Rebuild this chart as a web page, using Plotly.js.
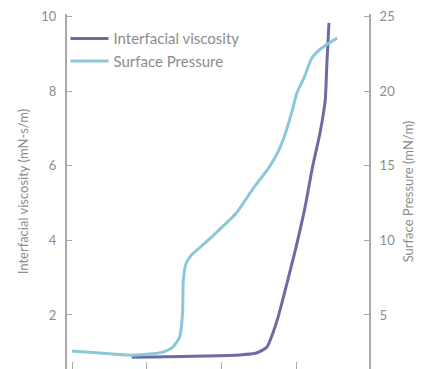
<!DOCTYPE html>
<html>
<head>
<meta charset="utf-8">
<script src="https://cdn.plot.ly/plotly-3.0.1.min.js"></script>
<style>html,body{margin:0;padding:0;background:#fff;overflow:hidden;}</style>
</head>
<body>
<div id="chart" style="width:426px;height:369px;"></div>
<script>
// Interfacial viscosity (left axis, mN-s/m)
const viscX = [8.0, 22.4, 24.7, 26.1, 26.9, 27.6, 28.2, 29.9, 31.2, 32.2, 33.2, 33.9, 34.1, 34.4];
const viscY = [0.87, 0.93, 0.98, 1.14, 1.52, 1.95, 2.40, 3.74, 4.89, 5.97, 6.88, 7.76, 8.65, 9.83];
// Surface pressure (right axis, mN/m)
const presX = [0, 3.7, 7.7, 10.4, 12.1, 13.5, 14.4, 14.8, 14.9, 15.3, 16.0, 17.5, 19.1, 22.0, 24.1, 26.4, 27.7, 28.4, 29.5, 30.1, 31.1, 32.1, 32.8, 34.0, 35.5];
const presY = [2.58, 2.45, 2.31, 2.38, 2.51, 2.85, 3.52, 5.13, 7.34, 8.48, 9.02, 9.69, 10.42, 11.83, 13.37, 14.91, 16.05, 16.92, 18.73, 19.87, 20.94, 22.22, 22.62, 23.09, 23.56];
const leftTicks = [2, 4, 6, 8, 10];
const rightTicks = [5, 10, 15, 20, 25];
const xTicks = [0, 10, 20, 30];
const names = ["Interfacial viscosity", "Surface Pressure"];

const font = "Lato, 'Open Sans', sans-serif";
const gray = "#8c8c8c";
const axisGray = "#a8a8a8";

const traces = [
  {x: viscX, y: viscY, name: names[0], type: "scatter", mode: "lines",
   line: {color: "#6c6ca4", width: 3, shape: "spline", smoothing: 0.6}, yaxis: "y"},
  {x: presX, y: presY, name: names[1], type: "scatter", mode: "lines",
   line: {color: "#8bc7d8", width: 3, shape: "spline", smoothing: 0.6}, yaxis: "y2"}
];

const layout = {
  width: 426, height: 369,
  margin: {l: 67, r: 57, t: 14, b: 0, pad: 0},
  paper_bgcolor: "#fff", plot_bgcolor: "#fff",
  font: {family: font, size: 13, color: gray},
  showlegend: true,
  legend: {x: -0.005, y: 0.977, xanchor: "left", yanchor: "top", itemwidth: 38,
    font: {family: font, size: 15, color: gray}, bgcolor: "rgba(0,0,0,0)"},
  xaxis: {range: [-0.67, 39.76], tickvals: xTicks, showticklabels: false,
    ticks: "inside", ticklen: 7, tickcolor: axisGray, tickwidth: 1,
    showline: false, showgrid: false, zeroline: false},
  yaxis: {range: [0.552, 10.067], tickvals: leftTicks, ticks: "inside", ticklen: 5,
    tickcolor: axisGray, showline: true, linecolor: axisGray, linewidth: 2,
    showgrid: false, zeroline: false, ticklabelstandoff: 6,
    tickfont: {family: font, size: 13, color: gray},
    title: {text: "Interfacial viscosity (mN-s/m)", font: {family: font, size: 13, color: gray}, standoff: 10}},
  yaxis2: {range: [1.38, 25.17], tickvals: rightTicks, ticks: "inside", ticklen: 5,
    tickcolor: axisGray, showline: true, linecolor: axisGray, linewidth: 2,
    overlaying: "y", side: "right", anchor: "x",
    showgrid: false, zeroline: false, ticklabelstandoff: 6,
    tickfont: {family: font, size: 13, color: gray},
    title: {text: "Surface Pressure (mN/m)", font: {family: font, size: 13, color: gray}, standoff: 10}}
};

Plotly.newPlot("chart", traces, layout, {displayModeBar: false, staticPlot: true});
</script>
</body>
</html>
